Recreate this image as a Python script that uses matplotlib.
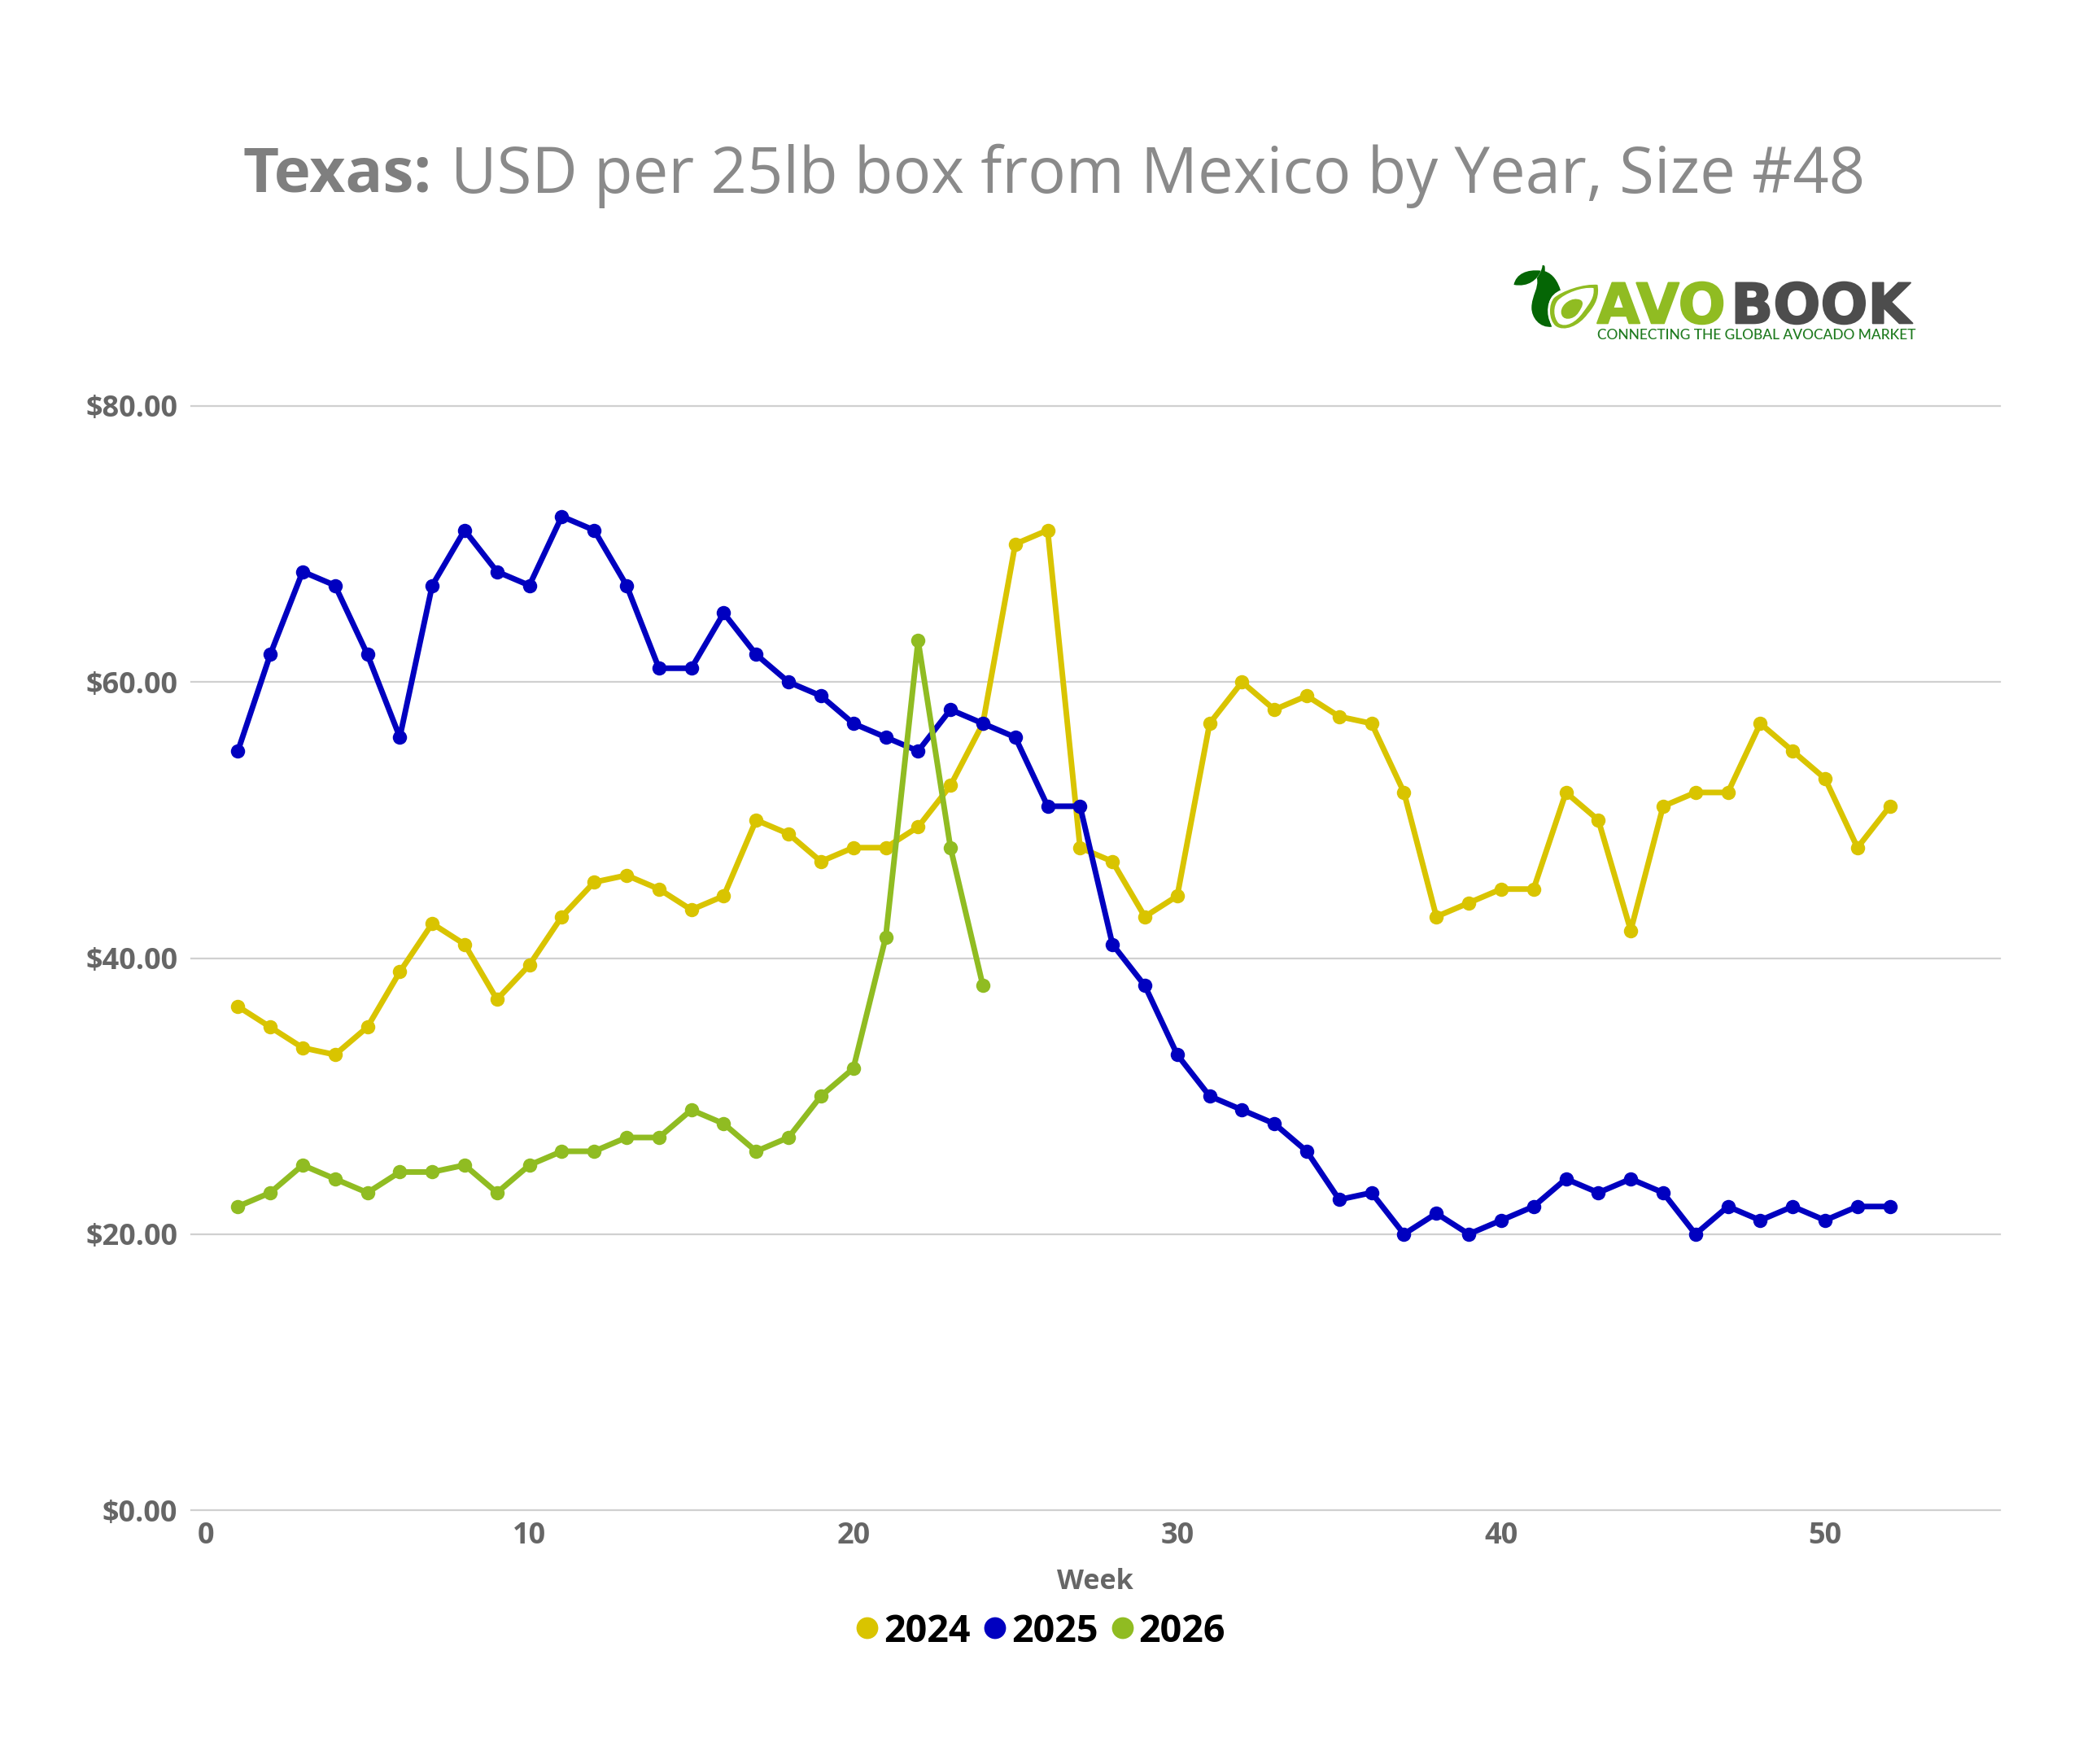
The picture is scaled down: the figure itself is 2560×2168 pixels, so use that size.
import matplotlib
matplotlib.use('Agg')
import matplotlib.pyplot as plt
import matplotlib.patheffects as pe
from matplotlib.patches import Ellipse, PathPatch
from matplotlib.path import Path

plt.rcParams['font.family'] = ['Open Sans', 'DejaVu Sans']

weeks_2024 = list(range(1, 53))
prices_2024 = [36.5, 35, 33.5, 33, 35, 39, 42.5, 41, 37, 39.5, 43, 45.5, 46, 45, 43.5, 44.5, 50, 49, 47, 48,
               48, 49.5, 52.5, 57, 70, 71, 48, 47, 43, 44.5, 57, 60, 58, 59, 57.5, 57, 52, 43, 44, 45,
               45, 52, 50, 42, 51, 52, 52, 57, 55, 53, 48, 51]
weeks_2025 = list(range(1, 53))
prices_2025 = [55, 62, 68, 67, 62, 56, 67, 71, 68, 67, 72, 71, 67, 61, 61, 65, 62, 60, 59, 57,
               56, 55, 58, 57, 56, 51, 51, 41, 38, 33, 30, 29, 28, 26, 22.5, 23, 20, 21.5, 20, 21,
               22, 24, 23, 24, 23, 20, 22, 21, 22, 21, 22, 22]
weeks_2026 = list(range(1, 25))
prices_2026 = [22, 23, 25, 24, 23, 24.5, 24.5, 25, 23, 25, 26, 26, 27, 27, 29, 28, 26, 27, 30, 32,
               41.5, 63, 48, 38]

y_ticks = [0, 20, 40, 60, 80]
y_labels = ['$0.00', '$20.00', '$40.00', '$60.00', '$80.00']
x_ticks = [0, 10, 20, 30, 40, 50]

YELLOW = '#d9c400'
BLUE = '#0000c0'
GREEN = '#90bc22'
W, H = 2560, 2168
AX_L, AX_R, AX_T, AX_B = 235, 2458, 499, 1856

fig = plt.figure(figsize=(W / 200, H / 200), dpi=200)
ax = fig.add_axes([AX_L / W, 1 - AX_B / H, (AX_R - AX_L) / W, (AX_B - AX_T) / H])

for xs, ys, col, name in [(weeks_2024, prices_2024, YELLOW, '2024'),
                          (weeks_2025, prices_2025, BLUE, '2025'),
                          (weeks_2026, prices_2026, GREEN, '2026')]:
    ax.plot(xs, ys, color=col, lw=2.5, marker='o', ms=6.3, mew=0, label=name, solid_joinstyle='round')

ax.set_xlim(-0.44, 55.4)
ax.set_ylim(0, 80)
ax.set_yticks(y_ticks)
ax.set_yticklabels(y_labels)
ax.set_xticks(x_ticks)
ax.grid(axis='y', color='#d0d0d0', lw=0.8, clip_on=False)
ax.set_axisbelow(True)
for s in ax.spines.values():
    s.set_visible(False)
ax.tick_params(length=0)
ax.tick_params(axis='y', pad=6, labelsize=13, labelcolor='#666666')
ax.tick_params(axis='x', pad=5, labelsize=13, labelcolor='#666666')
for t in ax.get_xticklabels() + ax.get_yticklabels():
    t.set_fontweight('bold')

ax.set_xlabel('Week', fontsize=12.3, fontweight='bold', color='#666666')
ax.xaxis.set_label_coords((1346 - AX_L) / (AX_R - AX_L), -(1944 - AX_B) / (AX_B - AX_T), transform=ax.transAxes)
ax.xaxis.label.set_verticalalignment('center')

fig.text(531 / W, 1 - 216 / H, 'Texas:', fontsize=27.5, fontweight='bold', color='#7f7f7f', ha='right', va='center')
fig.text(554 / W, 1 - 216 / H, 'USD per 25lb box from Mexico by Year, Size #48', fontsize=28, color='#8a8a8a',
         ha='left', va='center')

# legend is laid out by hand so the dots sit tight against the years
for x_dot, x_txt, col, name in [(1066, 1086, YELLOW, '2024'), (1223, 1243, BLUE, '2025'), (1380, 1399, GREEN, '2026')]:
    fig.add_artist(Ellipse((x_dot / W, 1 - 2001 / H), 24 / W, 24 / H, color=col, transform=fig.transFigure))
    fig.text(x_txt / W, 1 - 2006 / H, name, fontsize=16.8, fontweight='bold', color='black', ha='left', va='center')


# logo: dark leaf and pear behind the light avocado half
def fx(px):
    return (1800 + px / 2.613) / W


def fy(py):
    return 1 - (300 + py / 3) / H


def shape(pts, **kw):
    codes = [Path.MOVETO] + [Path.CURVE4] * (len(pts) - 1)
    path = Path([(fx(a), fy(b)) for a, b in pts], codes)
    fig.add_artist(PathPatch(path, transform=fig.transFigure, **kw))


DARK = '#056605'
shape([(158, 150), (165, 110), (200, 92), (245, 98), (235, 130), (205, 160), (158, 150)], fc=DARK, lw=0)
shape([(250, 78), (258, 78), (258, 78), (258, 100), (285, 110), (300, 140), (308, 170), (275, 185), (255, 225),
       (280, 305), (240, 310), (215, 270), (215, 235), (215, 190), (240, 160), (232, 125), (238, 115), (248, 100),
       (250, 78)], fc=DARK, lw=0)
shape([(430, 146), (380, 140), (310, 170), (285, 195), (265, 220), (265, 280), (290, 305), (320, 330), (370, 305),
       (398, 260), (425, 225), (438, 190), (430, 146)], fc=GREEN, ec='white', lw=1)
shape([(414, 162), (375, 157), (322, 182), (300, 207), (284, 228), (284, 270), (302, 292), (325, 310), (358, 288),
       (380, 252), (402, 218), (418, 195), (414, 162)], fc='white', lw=0)
shape([(372, 206), (345, 192), (310, 222), (310, 250), (310, 285), (350, 282), (366, 252), (378, 232), (385, 214),
       (372, 206)], fc=GREEN, lw=0)
heavy = [pe.withStroke(linewidth=0.7, foreground=GREEN)]
fig.text(fx(425), fy(292), 'AVO', fontsize=24.6, fontweight='bold', family='DejaVu Sans', color=GREEN, ha='left',
         va='baseline', path_effects=heavy)
heavy = [pe.withStroke(linewidth=0.7, foreground='#4d4d4d')]
fig.text(fx(855), fy(292), 'BOOK', fontsize=24.6, fontweight='bold', family='DejaVu Sans', color='#4d4d4d', ha='left',
         va='baseline', path_effects=heavy)
fig.text(fx(425), fy(352), 'CONNECTING THE GLOBAL AVOCADO MARKET', fontsize=6.25, family='Lato', fontweight='medium',
         color='#1e7a1e', ha='left', va='baseline')

fig.savefig('out.png', dpi=200)
